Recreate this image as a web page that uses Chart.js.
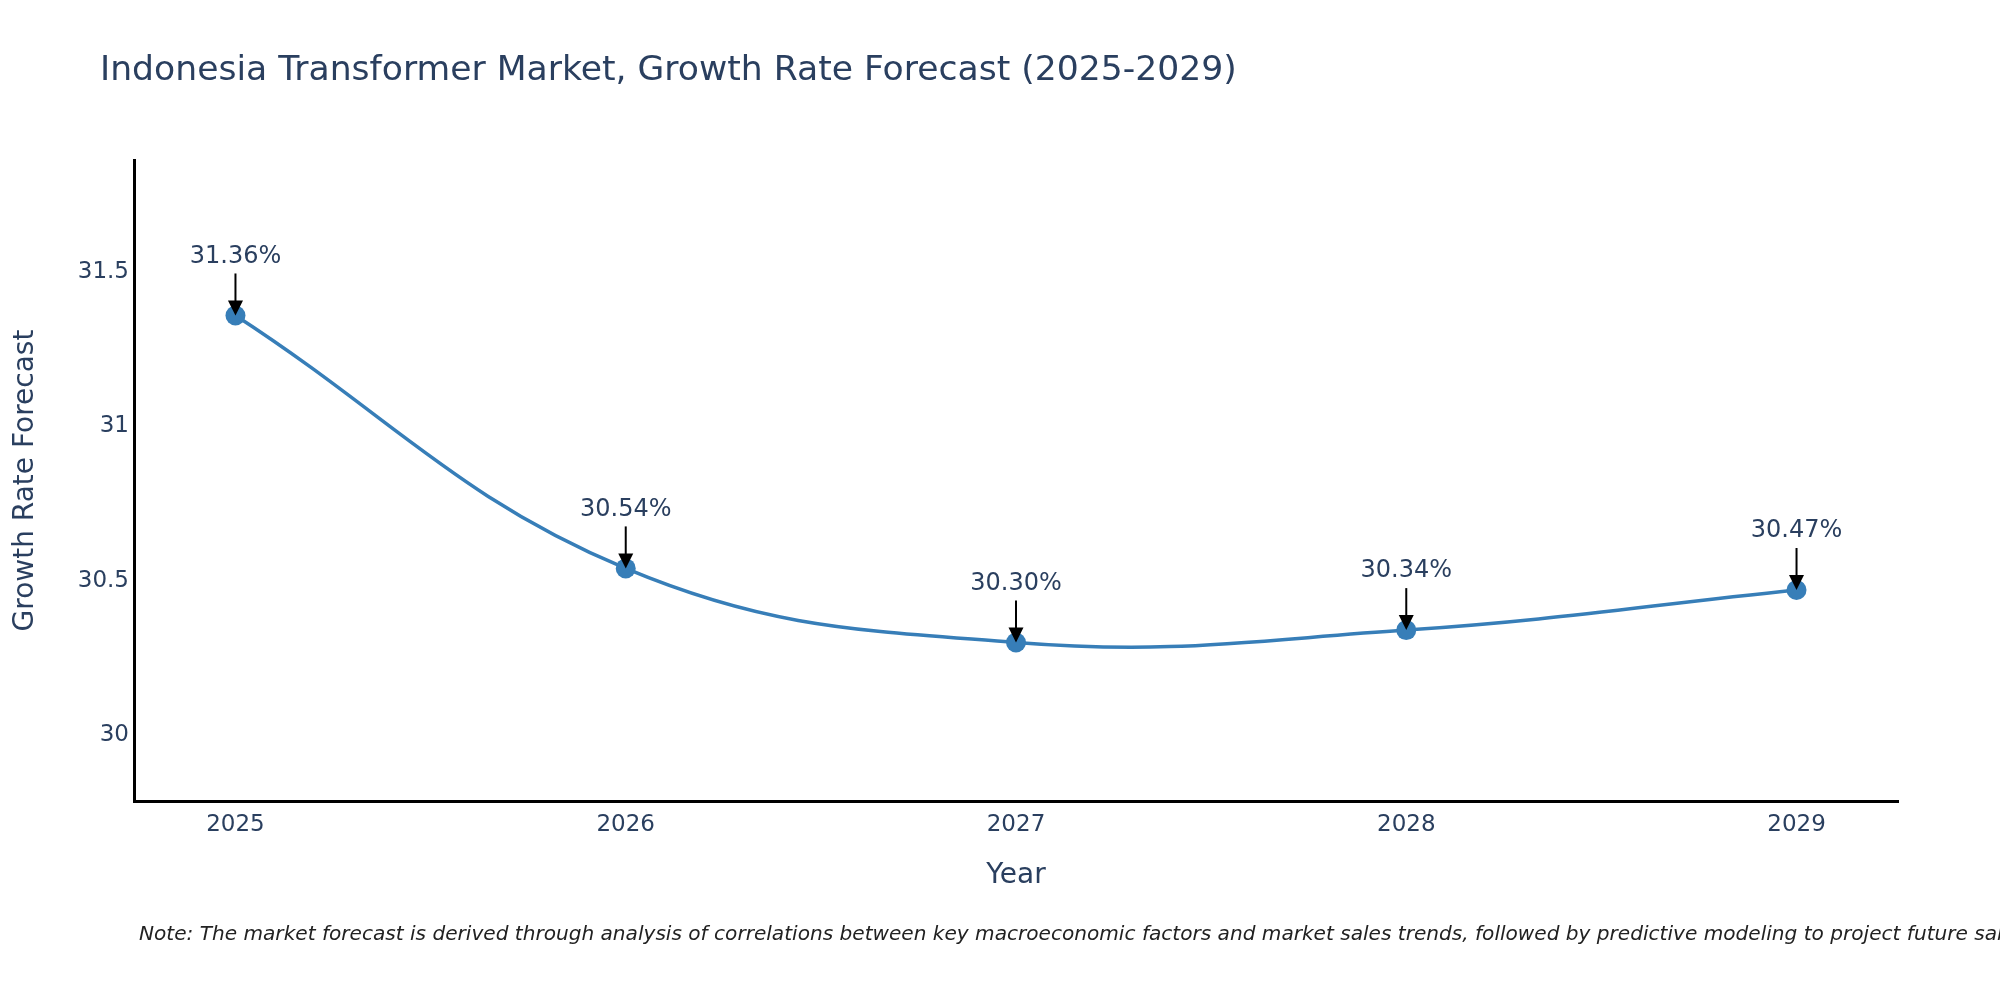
<!DOCTYPE html>
<html>
<head>
<meta charset="utf-8">
<script src="https://cdn.jsdelivr.net/npm/chart.js@4"></script>
<style>
  html, body { margin: 0; padding: 0; background: #fff; }
  canvas { display: block; }
</style>
</head>
<body>
<canvas id="myChart" width="2000" height="1000"></canvas>
<script>
// Data
const years = [2025, 2026, 2027, 2028, 2029];
const growthRate = [31.36, 30.54, 30.30, 30.34, 30.47];
const rateLabels = ["31.36%", "30.54%", "30.30%", "30.34%", "30.47%"];
const yTicks = [30, 30.5, 31, 31.5];

const titleText = "Indonesia Transformer Market, Growth Rate Forecast (2025-2029)";
const noteText = "Note: The market forecast is derived through analysis of correlations between key macroeconomic factors and market sales trends, followed by predictive modeling to project future sales.";

const FONT = "'DejaVu Sans', Verdana, sans-serif";
const TXT = "#2a3f5f";
const BLUE = "#377eb8";

// arrows + labels above each point, plus title / axis titles / note
const decorations = {
  id: "decorations",
  afterDatasetsDraw(chart) {
    const ctx = chart.ctx;
    const meta = chart.getDatasetMeta(0);
    ctx.save();
    meta.data.forEach((pt, i) => {
      const x = pt.x, y = pt.y;
      ctx.strokeStyle = "#000";
      ctx.lineWidth = 2;
      ctx.beginPath();
      ctx.moveTo(x, y - 42);
      ctx.lineTo(x, y - 14);
      ctx.stroke();
      ctx.fillStyle = "#000";
      ctx.beginPath();
      ctx.moveTo(x - 7.5, y - 15);
      ctx.lineTo(x + 7.5, y - 15);
      ctx.lineTo(x, y);
      ctx.closePath();
      ctx.fill();
      ctx.fillStyle = TXT;
      ctx.font = "24px " + FONT;
      ctx.textAlign = "center";
      ctx.textBaseline = "middle";
      ctx.fillText(rateLabels[i], x, y - 59);
    });
    ctx.restore();
  },
  afterDraw(chart) {
    const ctx = chart.ctx;
    const area = chart.chartArea;
    ctx.save();
    ctx.fillStyle = TXT;
    ctx.textBaseline = "alphabetic";
    ctx.textAlign = "left";
    ctx.font = "34.6px " + FONT;
    ctx.fillText(titleText, 100, 80);

    ctx.textAlign = "center";
    ctx.textBaseline = "middle";
    ctx.font = "28px " + FONT;
    ctx.fillText("Year", (area.left + area.right) / 2, 876);

    ctx.save();
    ctx.translate(26, (area.top + area.bottom) / 2);
    ctx.rotate(-Math.PI / 2);
    ctx.fillText("Growth Rate Forecast", 0, 0);
    ctx.restore();

    ctx.fillStyle = "#222";
    ctx.textAlign = "left";
    ctx.textBaseline = "alphabetic";
    ctx.font = "italic 20.1px " + FONT;
    ctx.fillText(noteText, 139, 940);
    ctx.restore();
  }
};

new Chart("myChart", {
  type: "line",
  data: {
    datasets: [
      {
        data: years.map((yr, i) => ({ x: yr, y: growthRate[i] })),
        borderColor: BLUE,
        backgroundColor: BLUE,
        borderWidth: 3.5,
        pointRadius: 10,
        pointHoverRadius: 10,
        pointBackgroundColor: BLUE,
        pointBorderWidth: 0,
        tension: 0.4,
        fill: false,
      },
    ],
  },
  options: {
    responsive: false,
    devicePixelRatio: 1,
    animation: false,
    layout: { padding: { top: 160, right: 102, left: 0, bottom: 0 } },
    plugins: {
      legend: { display: false },
      title: { display: false },
      tooltip: { enabled: false },
    },
    scales: {
      x: {
        type: "linear",
        min: 2024.74,
        max: 2029.26,
        afterFit: (s) => { s.height = 199; },
        afterBuildTicks: (s) => { s.ticks = years.map((v) => ({ value: v })); },
        grid: { display: false, drawTicks: false },
        border: { display: true, color: "#000", width: 3 },
        ticks: {
          padding: 10,
          color: TXT,
          font: { family: FONT, size: 23 },
          callback: (v) => String(v),
        },
      },
      y: {
        min: 29.786,
        max: 31.864,
        afterFit: (s) => { s.width = 134; },
        afterBuildTicks: (s) => { s.ticks = yTicks.map((v) => ({ value: v })); },
        grid: { display: false, drawTicks: false },
        border: { display: true, color: "#000", width: 3 },
        ticks: {
          padding: 5,
          color: TXT,
          font: { family: FONT, size: 23 },
          callback: (v) => String(v),
        },
      },
    },
  },
  plugins: [decorations],
});
</script>
</body>
</html>
